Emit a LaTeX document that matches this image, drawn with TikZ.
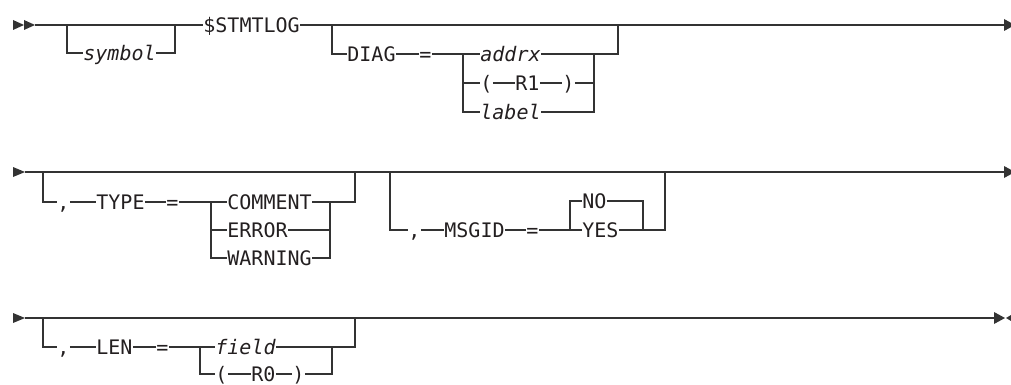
\documentclass[tikz,border=0pt]{standalone}
\usepackage{fontspec}
\newfontfamily\railfont{DejaVu Sans Mono}
\usepackage{tikz}
\usepackage{xcolor}
\definecolor{railgray}{RGB}{51,51,51}
\definecolor{railtext}{RGB}{35,31,32}

\begin{document}
\begin{tikzpicture}[x=0.5pt,y=-0.5pt,
    rail/.style={railgray,line width=0.8pt},
    railtip/.style={fill=railgray},
    kw/.style={font=\railfont\fontsize{10}{12}\selectfont,text=railtext,inner sep=0pt,
      text height=7.3pt,text depth=0pt,anchor=west},
    argtxt/.style={kw,font=\railfont\fontsize{10}{12}\selectfont\itshape}]
        \useasboundingbox (0,0) rectangle (1011,385);
        \clip (0,0) rectangle (1011,385);
        \fill[railtip] (13,20) -- (24,25) -- (13,30) -- cycle;
        \fill[railtip] (24,20) -- (35,25) -- (24,30) -- cycle;
        \coordinate (s1) at (35,25);
        \coordinate (a1) at (67,25);
        \coordinate (a2) at (175,25);
        \coordinate (b1) at (332,25);
        \coordinate (b2) at (618,25);
        \coordinate (e1) at (1004,25);
        \node[argtxt] (sym) at (83,53) {symbol};
        \node[kw] (stmt) at (203,25) {\$STMTLOG};
        \draw[rail] (s1) -- (stmt.west);
        \draw[rail] (stmt.east) -- (e1);
        \draw[rail] (a1) |- (sym.west);
        \draw[rail] (sym.east) -| (a2);
        \fill[railtip] (1004,19) -- (1015,25) -- (1004,31) -- cycle;
        \node[kw] (diag) at (347,54) {DIAG};
        \node[kw] (eq1) at (419,54) {=};
        \coordinate (c1) at (463,54);
        \coordinate (c2) at (594,54);
        \node[argtxt] (addrx) at (480,54) {addrx};
        \node[kw] (lp1) at (480,83) {(};
        \node[kw] (r1) at (515,83) {R1};
        \node[kw] (rp1) at (562,83) {)};
        \node[argtxt] (lab) at (480,112) {label};
        \draw[rail] (b1) |- (diag.west);
        \draw[rail] (diag.east) -- (eq1.west);
        \draw[rail] (eq1.east) -- (addrx.west);
        \draw[rail] (c1) |- (lp1.west);
        \draw[rail] (c1) |- (lab.west);
        \draw[rail] (lp1.east) -- (r1.west);
        \draw[rail] (r1.east) -- (rp1.west);
        \draw[rail] (addrx.east) -| (b2);
        \draw[rail] (rp1.east) -| (c2);
        \draw[rail] (lab.east) -| (c2);
        \fill[railtip] (13,167) -- (25,172) -- (13,177) -- cycle;
        \coordinate (s2) at (25,172);
        \coordinate (t1) at (43,172);
        \coordinate (t2) at (355,172);
        \coordinate (m1) at (390,172);
        \coordinate (m2) at (665,172);
        \coordinate (e2) at (1004,172);
        \draw[rail] (s2) -- (e2);
        \fill[railtip] (1004,166) -- (1015,172) -- (1004,178) -- cycle;
        \node[kw] (cm1) at (57,202) {,};
        \node[kw] (type) at (96,202) {TYPE};
        \node[kw] (eq2) at (166,202) {=};
        \coordinate (c3) at (211,202);
        \coordinate (c4) at (330,202);
        \node[kw] (com) at (227,202) {COMMENT};
        \node[kw] (err) at (227,230) {ERROR};
        \node[kw] (warn) at (227,258) {WARNING};
        \draw[rail] (t1) |- (cm1.west);
        \draw[rail] (cm1.east) -- (type.west);
        \draw[rail] (type.east) -- (eq2.west);
        \draw[rail] (eq2.east) -- (com.west);
        \draw[rail] (c3) |- (err.west);
        \draw[rail] (c3) |- (warn.west);
        \draw[rail] (com.east) -- (c4) -| (t2);
        \draw[rail] (err.east) -| (c4);
        \draw[rail] (warn.east) -| (c4);
        \node[kw] (cm2) at (408,230) {,};
        \node[kw] (msgid) at (444,230) {MSGID};
        \node[kw] (eq3) at (526,230) {=};
        \coordinate (c5) at (570,230);
        \coordinate (c6) at (643,230);
        \node[kw] (no) at (582,201) {NO};
        \node[kw] (yes) at (582,230) {YES};
        \draw[rail] (m1) |- (cm2.west);
        \draw[rail] (cm2.east) -- (msgid.west);
        \draw[rail] (msgid.east) -- (eq3.west);
        \draw[rail] (eq3.east) -- (yes.west);
        \draw[rail] (c5) |- (no.west);
        \draw[rail] (no.east) -| (c6);
        \draw[rail] (yes.east) -- (c6) -| (m2);
        \fill[railtip] (13,313) -- (25,318) -- (13,323) -- cycle;
        \coordinate (s3) at (25,318);
        \coordinate (l1) at (43,318);
        \coordinate (l2) at (355,318);
        \coordinate (e3) at (994,318);
        \draw[rail] (s3) -- (e3);
        \fill[railtip] (994,312) -- (1005,318) -- (994,324) -- cycle;
        \fill[railtip] (1016,312) -- (1006,318) -- (1016,324) -- cycle;
        \node[kw] (cm3) at (57,347) {,};
        \node[kw] (len) at (96,347) {LEN};
        \node[kw] (eq4) at (156,347) {=};
        \coordinate (c7) at (200,347);
        \coordinate (c8) at (332,347);
        \node[argtxt] (field) at (215,347) {field};
        \node[kw] (lp2) at (215,374) {(};
        \node[kw] (r0) at (251,374) {R0};
        \node[kw] (rp2) at (292,374) {)};
        \draw[rail] (l1) |- (cm3.west);
        \draw[rail] (cm3.east) -- (len.west);
        \draw[rail] (len.east) -- (eq4.west);
        \draw[rail] (eq4.east) -- (field.west);
        \draw[rail] (c7) |- (lp2.west);
        \draw[rail] (lp2.east) -- (r0.west);
        \draw[rail] (r0.east) -- (rp2.west);
        \draw[rail] (field.east) -- (c8) -| (l2);
        \draw[rail] (rp2.east) -| (c8);
      \end{tikzpicture}
\end{document}
